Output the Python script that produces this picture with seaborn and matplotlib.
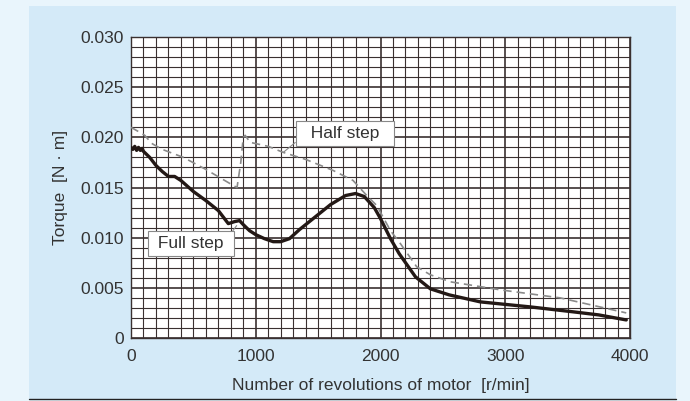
import matplotlib
matplotlib.use("Agg")
import matplotlib.pyplot as plt
from matplotlib.patches import Rectangle
from matplotlib.lines import Line2D
import seaborn as sns
import pandas as pd

# motor speed [r/min] and torque [N·m]
full_rpm = [0, 15, 30, 45, 60, 75, 90, 100, 150, 200, 250, 300, 350, 400, 500, 600, 700,
            780, 830, 870, 900, 950, 1000, 1070, 1140, 1200, 1270, 1350, 1480, 1600, 1720,
            1800, 1870, 1950, 2000, 2080, 2150, 2280, 2400, 2550, 2800, 3200, 3550, 3750, 3970]
full_torque = [0.0190, 0.0188, 0.0191, 0.0187, 0.0190, 0.0187, 0.0189, 0.0186, 0.0180,
               0.0172, 0.0166, 0.0161, 0.0161, 0.0157, 0.0146, 0.0137, 0.0127,
               0.0114, 0.0116, 0.0117, 0.0113, 0.0107, 0.0103, 0.0099, 0.0096, 0.0096,
               0.0099, 0.0108, 0.0121, 0.0133, 0.0142, 0.0144, 0.0141, 0.0130, 0.0119,
               0.0099, 0.0084, 0.0061, 0.0049, 0.0043, 0.0036, 0.0031, 0.0026, 0.0023, 0.0018]

half_rpm = [0, 70, 110, 165, 250, 420, 600, 820, 850, 880, 900, 915, 955, 1100, 1220,
            1400, 1620, 1780, 1890, 1970, 2080, 2160, 2290, 2400, 2560, 2960, 3440, 3970]
half_torque = [0.0210, 0.0205, 0.0202, 0.0194, 0.0188, 0.0180, 0.0168, 0.0152, 0.0150,
               0.0175, 0.0200, 0.0202, 0.0195, 0.0191, 0.0185, 0.0178, 0.0167, 0.0157,
               0.0142, 0.0132, 0.0107, 0.0094, 0.0071, 0.0063, 0.0056, 0.0048, 0.0040, 0.0025]

x_ticks = [0, 1000, 2000, 3000, 4000]
y_ticks = [0, 0.005, 0.010, 0.015, 0.020, 0.025, 0.030]
y_tick_labels = ["0", "0.005", "0.010", "0.015", "0.020", "0.025", "0.030"]

FS = 12.5
TXT = "#333333"

sns.set_style("white")
plt.rcParams["font.family"] = ["Liberation Sans", "DejaVu Sans"]

fig = plt.figure(figsize=(6.9, 4.01), dpi=100, facecolor="#e9f5fc")
fig.patches.append(Rectangle((29 / 690, 1 - 399 / 401), 647 / 690, 393 / 401,
                             transform=fig.transFigure, facecolor="#d4eaf8",
                             edgecolor="none", zorder=-2))
fig.lines.append(Line2D([29 / 690, 676 / 690], [1 - 399 / 401] * 2,
                        transform=fig.transFigure, color="#222222", lw=1.0, zorder=-1))

ax = fig.add_axes([131 / 690, 1 - 338 / 401, 499 / 690, 301 / 401])
ax.set_facecolor("white")

full = pd.DataFrame({"rpm": full_rpm, "torque": full_torque})
half = pd.DataFrame({"rpm": half_rpm, "torque": half_torque})

sns.lineplot(data=half, x="rpm", y="torque", ax=ax, color="#8a8a8a",
             linewidth=1.2, linestyle=(0, (5, 3)), zorder=3)
sns.lineplot(data=full, x="rpm", y="torque", ax=ax, color="#231815",
             linewidth=2.4, zorder=4)

ax.set_xlim(0, 4000)
ax.set_ylim(0, 0.030)
ax.set_xticks(x_ticks)
ax.set_xticks(range(0, 4001, 100), minor=True)
ax.set_yticks(y_ticks)
ax.set_yticklabels(y_tick_labels)
ax.set_yticks([i / 1000 for i in range(31)], minor=True)
ax.grid(which="minor", color="#3a3030", linewidth=0.8)
ax.grid(which="major", color="#3a3030", linewidth=1.2)
ax.set_axisbelow(True)
ax.tick_params(which="both", length=0)
ax.tick_params(axis="x", pad=8, labelsize=FS, labelcolor=TXT)
ax.tick_params(axis="y", pad=5, labelsize=FS, labelcolor=TXT)
for s in ax.spines.values():
    s.set_color("#3a3030")
    s.set_linewidth(1.0)

ax.set_xlabel("Number of revolutions of motor  [r/min]", fontsize=FS,
              color=TXT, labelpad=10)
ax.set_ylabel("Torque  [N · m]", fontsize=FS, color=TXT, labelpad=9)

box = dict(boxstyle="square,pad=0.3", facecolor="white", edgecolor="#888888", linewidth=0.8)
ax.annotate("  Half step  ", xy=(1221, 0.0185), xytext=(1715, 0.0204),
            ha="center", va="center", fontsize=FS, color=TXT, zorder=6,
            bbox=box,
            arrowprops=dict(arrowstyle="-", color="#888888", lw=0.8,
                            shrinkA=0, shrinkB=0, relpos=(0.0, 0.2)))
ax.annotate(" Full step ", xy=(847, 0.0112), xytext=(481, 0.0094),
            ha="center", va="center", fontsize=FS, color=TXT, zorder=6,
            bbox=box,
            arrowprops=dict(arrowstyle="-", color="#888888", lw=0.8,
                            shrinkA=0, shrinkB=0, relpos=(1.0, 1.0)))

fig.savefig("out.png", dpi=100, facecolor=fig.get_facecolor())
plt.close(fig)
